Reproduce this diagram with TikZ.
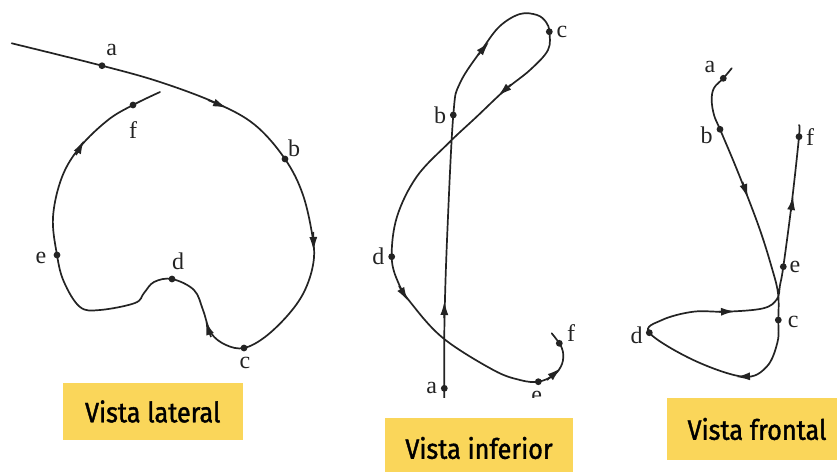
\documentclass[tikz,border=0pt]{standalone}
\usepackage{fontspec}
\setmainfont{Liberation Serif}
\newfontfamily\boxfont{Fira Sans}[FakeBold=1.5]
\usetikzlibrary{arrows.meta}
\definecolor{vistayellow}{RGB}{250,214,90}
\definecolor{pathgray}{RGB}{35,35,35}
\newcommand{\vistatext}[1]{\scalebox{0.9}[1]{#1}}

\begin{document}
\begin{tikzpicture}[x=1pt, y=-1pt, >=Latex,
  orbit/.style={line width=1.7pt, pathgray, line cap=round},
  tip/.style={-{Latex[length=14pt,width=8pt]}, line width=1.7pt, pathgray},
  lbl/.style={font=\fontsize{24}{24}\selectfont, text=pathgray, inner sep=0pt},
  vista/.style={fill=vistayellow, font=\boxfont\fontsize{28}{30}\selectfont, text=black, inner sep=0pt}]
  \useasboundingbox (0,0) rectangle (837,471);

  % vista lateral
  \coordinate (la) at (102,65.7);
  \coordinate (lb) at (285,159);
  \coordinate (lc) at (244,348);
  \coordinate (ld) at (172,279);
  \coordinate (le) at (57,255);
  \coordinate (lf) at (133,105);
  \draw [orbit] plot [smooth, tension=0.6] coordinates {(11.7,43.3) (la) (160,82) (216.7,103.3) (255,125) (lb) (303,195) (313,240) (313,265) (304,292) (288,315) (265,337) (lc) (226,345) (211,333) (203,310) (194,290) (ld) (154,282) (144,293) (135,303) (100,310) (80,307) (64,282) (le) (53,217) (62,177) (80,147) (108,120) (lf) (160,92)};
  \draw [tip] (208,100) -- (227,108);
  \draw [tip] (313.2,232) -- (313.6,251);
  \draw [tip] (211,337) -- (205.5,321);
  \draw [tip] (76,155) -- (84,140);
  \foreach \p in {la,lb,lc,ld,le,lf} \fill [pathgray] (\p) circle (3.4pt);
  \node [lbl] (lal) at (111.7,50) {a};
  \node [lbl] (lbl) at (294,148) {b};
  \node [lbl] (lcl) at (245,363) {c};
  \node [lbl] (ldl) at (178,261) {d};
  \node [lbl] (lel) at (41,258) {e};
  \node [lbl] (lfl) at (133,130) {f};

  % vista inferior
  \begin{scope}
    \clip (360,0) rectangle (600,397);
    \coordinate (ia) at (444.3,388.3);
    \coordinate (ib) at (453.3,115);
    \coordinate (ic) at (549.3,31.7);
    \coordinate (id) at (391.7,256.7);
    \coordinate (ie) at (538.3,381.7);
    \coordinate (if) at (559.3,343.3);
    \draw [orbit] plot [smooth, tension=0.6] coordinates {(444.3,400) (ia) (444.5,320) (447.3,233) (ib) (460,83) (483,48) (500,26) (520,14) (537,15) (546,22) (ic) (548,50) (530,70) (505,90) (476.7,116.7) (448.3,143.3) (416.7,176.7) (397,216.7) (id) (398,282) (411,303) (443.3,338.3) (493.3,370) (520,380) (ie) (554,375) (562,364) (563,352) (if) (551.7,333.3)};
    \draw [tip] (444.3,318) -- (444.4,301);
    \draw [tip] (478,55) -- (489,42);
    \draw [tip] (511,84.5) -- (498,96);
    \draw [tip] (399,286) -- (408,301);
    \draw [tip] (547,380) -- (561,368);
    \foreach \p in {ia,ib,ic,id,ie,if} \fill [pathgray] (\p) circle (3.4pt);
    \node [lbl] (ial) at (431.7,388) {a};
    \node [lbl] (ibl) at (440,115) {b};
    \node [lbl] (icl) at (562,31.7) {c};
    \node [lbl] (idl) at (378.3,256.7) {d};
    \node [lbl] (iel) at (536.7,397) {e};
    \node [lbl] (ifl) at (571,333.3) {f};
  \end{scope}

  % vista frontal
  \coordinate (fa) at (723.3,78.3);
  \coordinate (fb) at (720,129.3);
  \coordinate (fc) at (778.3,320);
  \coordinate (fd) at (649.3,332.7);
  \coordinate (fe) at (783.3,266.7);
  \coordinate (ff) at (799,136.7);
  \draw [orbit] plot [smooth, tension=0.6] coordinates {(731.7,68.3) (fa) (714,88) (711.7,100) (714,115) (fb) (733,160) (745,190) (760,230) (771,265) (778,293) (fc) (777.5,342) (766.7,366.7) (743.3,376.7) (693.3,360) (fd) (662,320) (693.3,311.7) (726.7,311.7) (763.3,308.3) (777,299) (780,285) (fe) (791.7,203.3) (ff) (799,125)};
  \draw [tip] (742.5,182) -- (748,198);
  \draw [tip] (791,211) -- (793.2,196);
  \draw [tip] (719,311.8) -- (735,311.4);
  \draw [tip] (750,376.3) -- (736,377);
  \foreach \p in {fa,fb,fc,fd,fe,ff} \fill [pathgray] (\p) circle (3.4pt);
  \node [lbl] (fal) at (710,66.7) {a};
  \node [lbl] (fbl) at (706.7,135) {b};
  \node [lbl] (fcl) at (793.3,321.7) {c};
  \node [lbl] (fdl) at (636.7,335) {d};
  \node [lbl] (fel) at (795,266.7) {e};
  \node [lbl] (ffl) at (810,136.7) {f};

  % rotulos
  \node [vista, minimum width=180pt, minimum height=57pt] (lateral) at (152.7,411.5) {\vistatext{Vista lateral}};
  \node [vista, minimum width=188pt, minimum height=60pt] (inferior) at (479,448) {\vistatext{Vista inferior}};
  \node [vista, minimum width=180pt, minimum height=62pt] (frontal) at (757,429) {\vistatext{Vista frontal}};
\end{tikzpicture}
\end{document}
